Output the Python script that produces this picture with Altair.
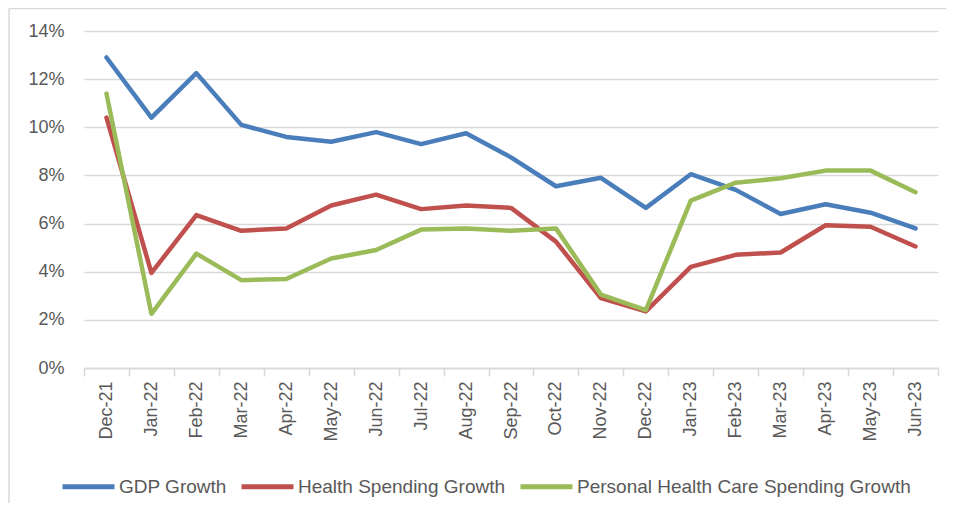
import altair as alt
import pandas as pd

months = ["Dec-21", "Jan-22", "Feb-22", "Mar-22", "Apr-22", "May-22", "Jun-22",
          "Jul-22", "Aug-22", "Sep-22", "Oct-22", "Nov-22", "Dec-22", "Jan-23",
          "Feb-23", "Mar-23", "Apr-23", "May-23", "Jun-23"]
gdp = [12.9, 10.4, 12.25, 10.1, 9.6, 9.4, 9.8, 9.3, 9.75, 8.75, 7.55, 7.9,
       6.65, 8.05, 7.4, 6.4, 6.8, 6.45, 5.8]
health = [10.4, 3.95, 6.35, 5.7, 5.8, 6.75, 7.2, 6.6, 6.75, 6.65, 5.25, 2.9,
          2.35, 4.2, 4.7, 4.8, 5.93, 5.87, 5.05]
phc = [11.4, 2.25, 4.75, 3.65, 3.7, 4.55, 4.9, 5.75, 5.8, 5.7, 5.8, 3.05,
       2.4, 6.95, 7.7, 7.88, 8.2, 8.2, 7.3]
series = ["GDP Growth", "Health Spending Growth", "Personal Health Care Spending Growth"]
colors = ["#4A7EBB", "#C0504D", "#9BBB59"]
y_ticks = [0, 2, 4, 6, 8, 10, 12, 14]

rows = []
for name, vals in zip(series, [gdp, health, phc]):
    for m, v in zip(months, vals):
        rows.append({"month": m, "value": v, "series": name})
df = pd.DataFrame(rows)

FONT = "Liberation Sans"
GRID = "#d9d9d9"
TXT = "#595959"

lines = alt.Chart(df).mark_line(strokeWidth=4.5, strokeJoin="round", strokeCap="round").encode(
    x=alt.X("month:O", sort=months, bandPosition=0.5,
            scale=alt.Scale(type="band", paddingInner=0, paddingOuter=0),
            axis=alt.Axis(title=None, labelAngle=270, tickBand="extent", tickSize=8,
                          tickColor=GRID, tickWidth=1.5, domainColor=GRID, domainWidth=1.5,
                          grid=False, labelFont=FONT, labelFontSize=18, labelColor=TXT,
                          labelPadding=5)),
    y=alt.Y("value:Q", scale=alt.Scale(domain=[0, 14]),
            axis=alt.Axis(title=None, values=y_ticks, labelExpr="datum.value + '%'",
                          domain=False, ticks=False, gridColor=GRID, gridWidth=1.5,
                          labelFont=FONT, labelFontSize=18, labelColor=TXT, labelPadding=20)),
    color=alt.Color("series:N", sort=series,
                    scale=alt.Scale(domain=series, range=colors),
                    legend=alt.Legend(title=None, orient="none", legendX=-24, legendY=427,
                                      direction="horizontal", symbolType="stroke",
                                      symbolSize=2704, symbolStrokeWidth=5,
                                      labelFont=FONT, labelFontSize=19, labelColor=TXT,
                                      labelLimit=0, columnPadding=4, labelOffset=2)),
)

frame_df = pd.DataFrame({"k": [0]})
left_border = alt.Chart(frame_df).mark_rule(color=GRID, strokeWidth=1.5).encode(
    x=alt.value(-75), y=alt.value(-22.5), y2=alt.value(472))
top_border = alt.Chart(frame_df).mark_rule(color=GRID, strokeWidth=1.5).encode(
    x=alt.value(-75), x2=alt.value(862), y=alt.value(-22.5))

chart = alt.layer(lines, left_border, top_border).properties(
    width=854, height=337,
    autosize=alt.AutoSizeParams(type="none"),
    padding={"left": 76, "top": 23, "right": 8, "bottom": 143},
).configure_view(stroke=None)

chart.save("out.html", embed_options={"renderer": "svg", "actions": False})
